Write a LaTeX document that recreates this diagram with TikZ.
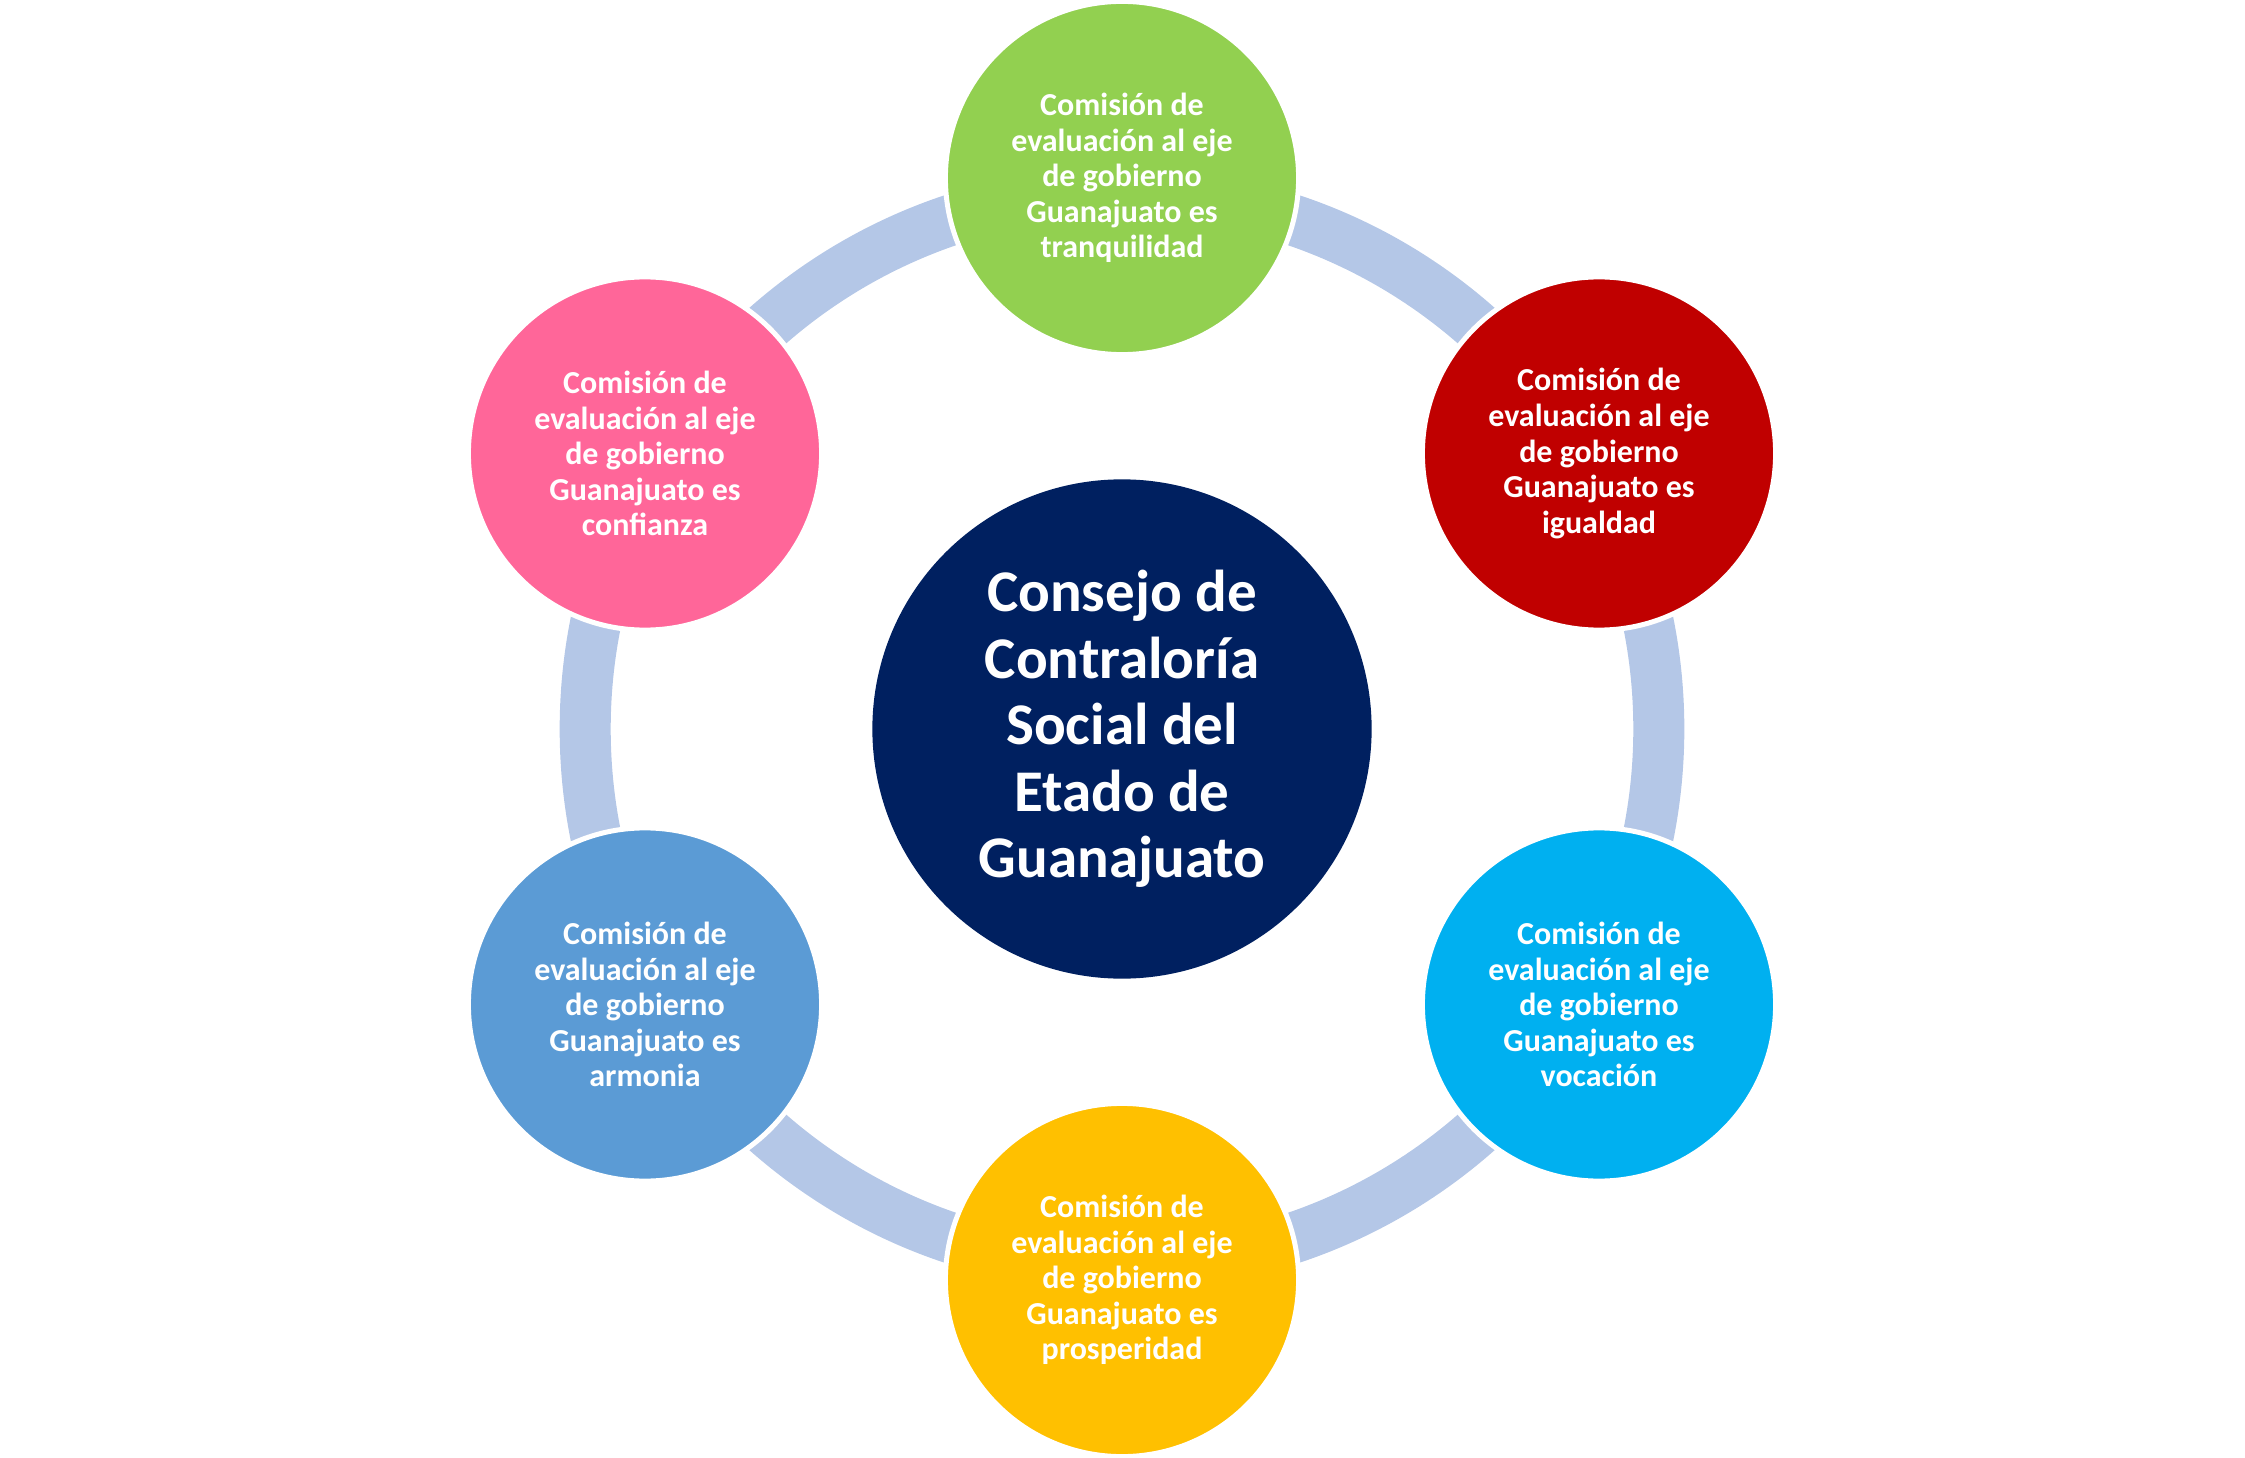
\documentclass[tikz,border=0pt]{standalone}
\usepackage{fontspec}
\setmainfont{Carlito}
\definecolor{ringblue}{HTML}{B4C7E7}
\definecolor{navy}{HTML}{002060}
\definecolor{cgreen}{HTML}{92D050}
\definecolor{cred}{HTML}{C00000}
\definecolor{ccyan}{HTML}{00B0F0}
\definecolor{cyellow}{HTML}{FFC000}
\definecolor{cblue}{HTML}{5B9BD5}
\definecolor{cpink}{HTML}{FF6699}
\tikzset{
  sat/.style={circle, draw=white, line width=0.05cm, minimum size=3.53cm, inner sep=0pt,
    text=white, align=center, font=\bfseries\fontsize{9.1pt}{10.1pt}\selectfont},
  hub/.style={circle, fill=navy, minimum size=4.99cm, inner sep=0pt,
    text=white, align=center, font=\bfseries\fontsize{16.8pt}{18.9pt}\selectfont}
}
\begin{document}
\begin{tikzpicture}[x=0.01cm,y=-0.01cm]
\useasboundingbox (0,0) rectangle (2245,1458);
\coordinate (o) at (1122,729);
\draw[ringblue, line width=0.51cm] (o) circle (5.365cm);
\node[hub] (c) at (o) {Consejo de\\Contraloría\\Social del\\Etado de\\Guanajuato};
\node[sat, fill=cgreen] (n1) at (1122,178) {Comisión de\\evaluación al eje\\de gobierno\\Guanajuato es\\tranquilidad};
\node[sat, fill=cred] (n2) at (1599,453.5) {Comisión de\\evaluación al eje\\de gobierno\\Guanajuato es\\igualdad};
\node[sat, fill=ccyan] (n3) at (1599,1004.5) {Comisión de\\evaluación al eje\\de gobierno\\Guanajuato es\\vocación};
\node[sat, fill=cyellow] (n4) at (1122,1280) {Comisión de\\evaluación al eje\\de gobierno\\Guanajuato es\\prosperidad};
\node[sat, fill=cblue] (n5) at (645,1004.5) {Comisión de\\evaluación al eje\\de gobierno\\Guanajuato es\\armonia};
\node[sat, fill=cpink] (n6) at (645,453.5) {Comisión de\\evaluación al eje\\de gobierno\\Guanajuato es\\confianza};
\end{tikzpicture}
\end{document}
